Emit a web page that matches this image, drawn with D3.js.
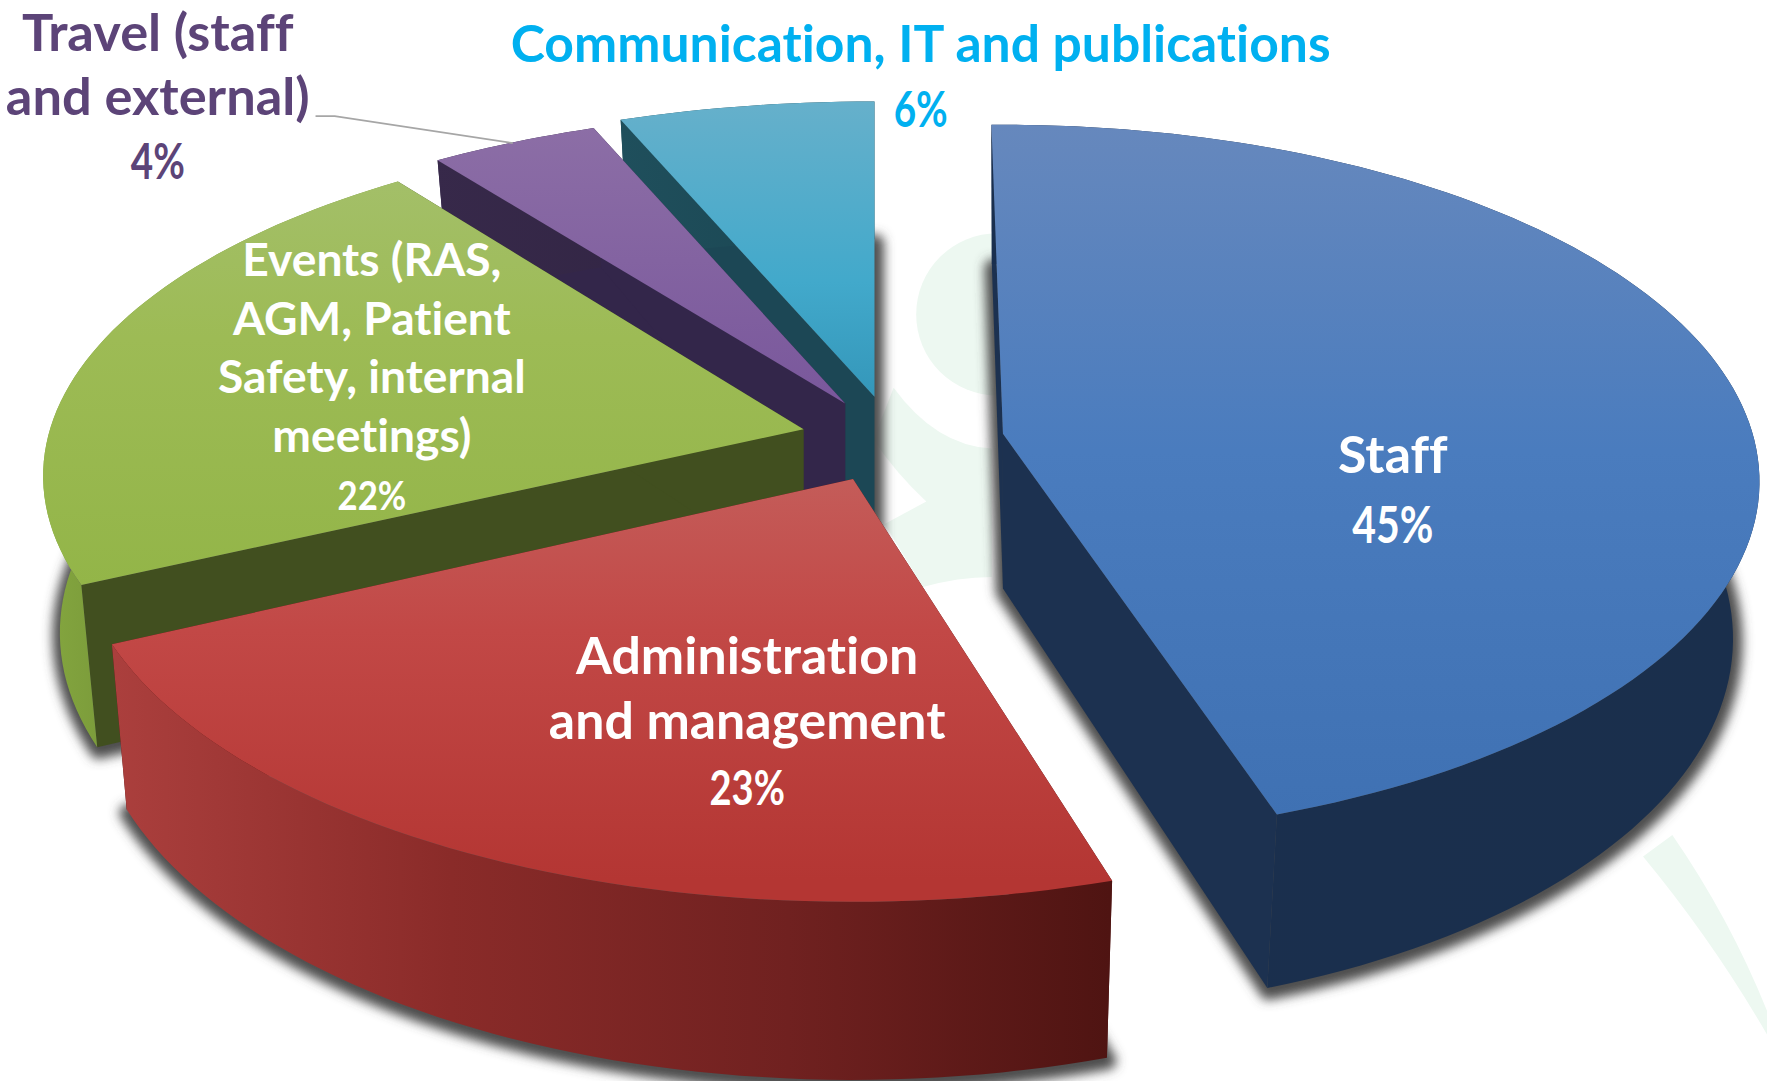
<!DOCTYPE html>
<html><head><meta charset="utf-8">
<script src="https://cdnjs.cloudflare.com/ajax/libs/d3/7.8.5/d3.min.js"></script>
<style>html,body{margin:0;padding:0;background:#fff}svg{display:block}text{font-family:Lato,"Open Sans",sans-serif;font-weight:700;font-variant-ligatures:none}</style>
</head><body><svg id="c"></svg>
<script>
// ---- data ----
const categories = ["Staff","Administration and management","Events (RAS, AGM, Patient Safety, internal meetings)","Travel (staff and external)","Communication, IT and publications"];
const shares = [45,23,22,4,6];
// ---- label text ----
const labelLines = [["Staff"],["Administration","and management"],["Events (RAS,","AGM, Patient","Safety, internal","meetings)"],["Travel (staff","and external)"],["Communication, IT and publications"]];
// ---- layout (drawing space 1568 x 959) ----
const W=1767,H=1081,VW=1568,VH=VW*H/W;
const slicePivotX=[890,757,713,750,776];
const slicePivotY=[385,425,381,358,352];
const sliceScaleX=[0.99,1.02,0.995,1.015,1.024];
const sliceScaleY=[1.005,1.05,0.98,0.955,0.96];
const startTrimDeg=[-1,1,-0.2,0,0];
const endTrimDeg=[-0.6,0,-0.6,0,0];
const bottomShrink=[0.965,0.98,0.978,0.97,0.97];
const labelX=[1236,663,330,140,817];
const labelY=[420,598,245,45,55];
const labelLead=[62,58,52,57,58];
const labelSize=[46,46,41,46.5,45.8];
const labelFill=["#fff","#fff","#fff","#5c4478","#00b0f0"];
const pctSize=[46,42,36,44,44];
const pctWidth=[72,67,61,48,48];
const RX=672,RY=309.5,K=0.134;
const DEPTH_BASE=118,DEPTH_SLOPE=0.05;
// ---- colours ----
const topStops=[[[112,"#6688bd"],[400,"#4a7cbe"],[725,"#3f71b3"]],[[425,"#c45c59"],[560,"#c24846"],[780,"#b43633"]],[[163,"#a3bf68"],[300,"#9dbb55"],[520,"#93b548"]],[[112,"#8c6ea6"],[350,"#7a589c"]],[[90,"#66b0cb"],[250,"#42a9cb"],[352,"#3497ba"]]];
const rimStops=[[[880,"#1a2f4e"],[1560,"#1a2f4c"]],[[102,"#ab3f3d"],[400,"#8a2b29"],[700,"#702120"],[985,"#4f1412"]],[[40,"#84a63f"],[100,"#7a9a3a"]],[[380,"#37294a"],[750,"#2f2340"]],[[550,"#1f4f5c"],[780,"#1a4450"]]];
const wallFill=["#1c3150","#4f1412","#414f1f","#33264a","#1c4755"];

const svg=d3.select("#c").attr("width",W).attr("height",H).attr("viewBox",`0 0 ${VW} ${VH}`);
const defs=svg.append("defs");
defs.append("filter").attr("id","blur").attr("x","-10%").attr("y","-10%").attr("width","120%").attr("height","120%")
  .append("feGaussianBlur").attr("stdDeviation",4.5);
function grad(id,stops,axis,from,to){
  const g=defs.append("linearGradient").attr("id",id).attr("gradientUnits","userSpaceOnUse")
    .attr("x1",axis==="x"?from:0).attr("x2",axis==="x"?to:0).attr("y1",axis==="y"?from:0).attr("y2",axis==="y"?to:0);
  const f=d3.scaleLinear().domain([from,to]).range([0,1]);
  stops.forEach(s=>g.append("stop").attr("offset",f(s[0])).attr("stop-color",s[1]));
}
// faint backdrop artwork
const bg=svg.append("g").attr("fill","#edf8f1");
bg.append("circle").attr("cx",885).attr("cy",279).attr("r",72);
bg.append("path").attr("d","M793,344 Q830,395 880,398 L880,512 Q850,512 819,521 L785,465 L822,445 Q795,420 775,390 Z");
bg.append("path").attr("d","M1458,760 L1484,741 Q1535,815 1568,897 L1568,918 Q1520,835 1458,760 Z");

// pie angles come from d3.pie, in data order, clockwise from the back
const arcs=d3.pie().sort(null).value(d=>d)(shares);
const uScale=d3.scaleLinear().domain([-1,1]).range([-RX,RX]);
const vScale=d3.scaleLinear().domain([-1,1]).range([RY,-RY]);
function project(i,angle,r){
  const u=Math.sin(angle)*r, v=Math.cos(angle)*r, w=1+K*v;
  return [slicePivotX[i]+sliceScaleX[i]*uScale(u)/w, slicePivotY[i]+sliceScaleY[i]*vScale(v)/w];
}
function drop(i,p){return [slicePivotX[i]+(p[0]-slicePivotX[i])*bottomShrink[i], p[1]+DEPTH_BASE+DEPTH_SLOPE*p[1]];}
const line=d3.line();
const rad=d3.scaleLinear().domain([0,180]).range([0,Math.PI]);
// back-to-front paint order
const order=[4,3,2,1,0];
order.forEach(i=>{
  const a0=arcs[i].startAngle+rad(startTrimDeg[i]), a1=arcs[i].endAngle+rad(endTrimDeg[i]);
  const n=Math.max(12,Math.round((a1-a0)*40));
  const angles=d3.range(n+1).map(t=>a0+(a1-a0)*t/n);
  const rimTop=angles.map(t=>project(i,t,1));
  const rimBot=rimTop.map(p=>drop(i,p));
  const apex=project(i,0,0), apexBot=drop(i,apex);
  grad("top"+i,topStops[i],"y",topStops[i][0][0],topStops[i][topStops[i].length-1][0]);
  grad("rim"+i,rimStops[i],"x",rimStops[i][0][0],rimStops[i][rimStops[i].length-1][0]);
  const g=svg.append("g").attr("class","slice").attr("data-name",categories[i]);
  // soft shadow under the slab
  g.append("path").attr("d",line([apexBot,...rimBot])+"Z").attr("fill","#4d4d4d").attr("stroke","#4d4d4d").attr("stroke-width",15).attr("stroke-linejoin","round").attr("filter","url(#blur)").attr("transform","translate(1,3)");
  // cut walls
  g.append("path").attr("d",line([apex,rimTop[0],rimBot[0],apexBot])+"Z").attr("fill",wallFill[i]);
  g.append("path").attr("d",line([apex,rimTop[n],rimBot[n],apexBot])+"Z").attr("fill",wallFill[i]);
  // outer rim
  g.append("path").attr("d",line([...rimTop,...rimBot.slice().reverse()])+"Z").attr("fill",`url(#rim${i})`);
  // top face
  g.append("path").attr("d",line([apex,...rimTop])+"Z").attr("fill",`url(#top${i})`);
});
// leader line for Travel
svg.append("path").attr("d",line([[280,103],[297,103],[455,127]])).attr("fill","none").attr("stroke","#a6a6a6").attr("stroke-width",1.6);
// labels
const lg=svg.append("g").attr("text-anchor","middle");
labelLines.forEach((ls,i)=>{
  ls.forEach((s,j)=>lg.append("text").attr("x",labelX[i]).attr("y",labelY[i]+j*labelLead[i]).attr("font-size",labelSize[i]).attr("fill",labelFill[i]).text(s));
  lg.append("text").attr("x",labelX[i]).attr("y",labelY[i]+ls.length*labelLead[i]).attr("font-size",pctSize[i]).attr("fill",labelFill[i])
    .attr("textLength",pctWidth[i]).attr("lengthAdjust","spacingAndGlyphs").text(shares[i]+"%");
});
</script></body></html>
